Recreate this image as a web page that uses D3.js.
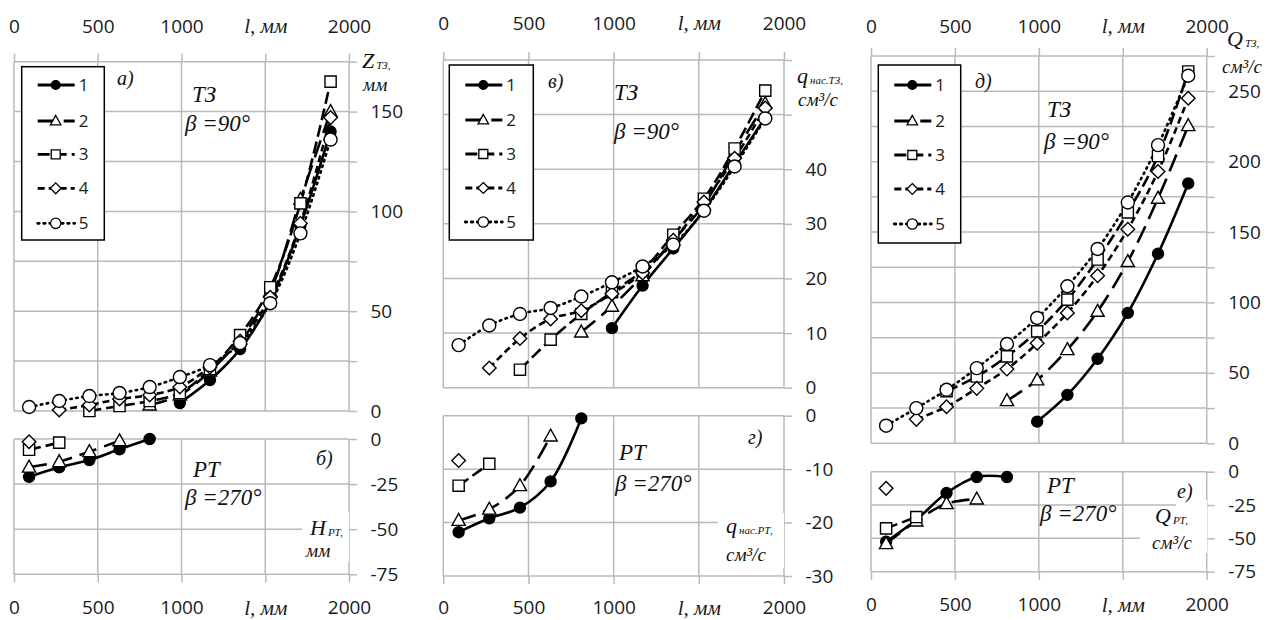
<!DOCTYPE html>
<html><head><meta charset="utf-8">
<script src="https://cdn.jsdelivr.net/npm/d3@7/dist/d3.min.js"></script>
<style>body{margin:0;background:#fff}svg{display:block}</style>
</head><body>
<svg id="c" width="1278" height="620"></svg>
<script>
// ---------- DATA ----------
const L = [90,270,450,630,810,990,1170,1350,1530,1710,1890];   // l, мм
const xTicks = [0,500,1000,1500,2000];
const seriesNames = ["1","2","3","4","5"];

// а) Z_ТЗ, мм (β=90°)
const zTZ1 = [null,null,null,null,null,4,15.5,31,55,93,140];
const zTZ2 = [null,null,null,null,3,8,20,36,60,106,150];
const zTZ3 = [null,null,0,2.5,5,9,21,38,62,104,165];
const zTZ4 = [null,0.5,3,6,8,12,22,35,57,94,147];
const zTZ5 = [2,5,7.5,9,12,17,23,34,54,89,136];
// б) H_РТ, мм (β=270°)
const hRT1 = [-21,-15.7,-11.7,-5.7,0];
const hRT2 = [-15.6,-12.6,-7,-1];
const hRT3 = [-6,-2];
const hRT4 = [-1.5];
// в) q_нас.ТЗ, см³/с
const qTZ1 = [null,null,null,null,null,10.9,18.7,25.5,32.5,41,49.5];
const qTZ2 = [null,null,null,null,10.2,14.9,20.5,27,33.5,43,52];
const qTZ3 = [null,null,3.3,8.8,13.5,17.5,21.5,28,34.6,43.8,54.4];
const qTZ4 = [null,3.6,9,12.6,14.1,17.2,21,27,34,42,51.2];
const qTZ5 = [7.8,11.4,13.5,14.6,16.7,19.3,22.2,26.2,32.4,40.5,49.3];
// г) q_нас.РТ, см³/с
const qRT1 = [-21.8,-19.2,-17.2,-12.3,-0.5];
const qRT2 = [-19.6,-17.5,-13.1,-3.8];
const qRT3 = [-13.1,-9];
const qRT4 = [-8.4];
// д) Q_ТЗ, см³/с
const QTZ1 = [null,null,null,null,null,15.4,34.4,60,92.6,134.6,184.5];
const QTZ2 = [null,null,null,null,30.3,45,66.5,93.7,129,174,225.5];
const QTZ3 = [null,null,37,47.4,61.7,79.5,102,130.5,164,204,264];
const QTZ4 = [null,17,26,39,52.7,71,92.6,119,152,193,245];
const QTZ5 = [12.5,25,38,53.4,70.5,89,111.5,138,171,211.7,261];
// е) Q_РТ, см³/с
const QRT1 = [-52.5,-36,-16,-4,-4];
const QRT2 = [-54,-37,-24,-20.5];
const QRT3 = [-42.5,-34];
const QRT4 = [-12.5];

// y-axis tick values / labels
const tickA = [0,25,50,75,100,125,150,175], labA = [0,50,100,150];
const tickB = [0,-25,-50,-75];
const tickV = [0,10,20,30,40,50,60], labV = [0,10,20,30,40];
const tickG = [0,-10,-20,-30];
const tickD = [0,25,50,75,100,125,150,175,200,225,250,275], labD = [0,50,100,150,200,250];
const tickE = [0,-25,-50,-75];

// ---------- STYLE ----------
const GRID = "#b9b9b9";
const SANS = "'Open Sans', 'Noto Sans', sans-serif";
const SERIF = "'Liberation Serif', 'DejaVu Serif', serif";
const styles = [
  {dash:null, marker:"fcircle"},
  {dash:"18,8", marker:"triangle"},
  {dash:"12,5", marker:"square"},
  {dash:"7,4", marker:"diamond"},
  {dash:"1.5,4.5", marker:"circle"}
];

const svg = d3.select("#c");

function markerPath(type, s){
  s = s||1;
  if(type==="fcircle"||type==="circle"){ const r=(type==="fcircle"?5.5:6.5)*s; return `M${-r},0A${r},${r} 0 1,0 ${r},0A${r},${r} 0 1,0 ${-r},0Z`; }
  if(type==="square"){ const h=5.6*s; return `M${-h},${-h}H${h}V${h}H${-h}Z`; }
  if(type==="triangle"){ const a=6.6*s; return `M0,${-a*1.05}L${a},${a*0.75}L${-a},${a*0.75}Z`; }
  if(type==="diamond"){ const a=6.8*s; return `M0,${-a}L${a},0L0,${a}L${-a},0Z`; }
}

function drawMarkers(g, pts, st, x, y){
  g.selectAll(null).data(pts).enter().append("path")
    .attr("d", markerPath(st.marker))
    .attr("transform", d=>`translate(${x(d.l)},${y(d.v)})`)
    .attr("fill", st.marker==="fcircle"?"#000":"#fff")
    .attr("stroke","#000").attr("stroke-width",1.4);
}

function drawChart(g, x, cfg, axisPos){
  const y = d3.scaleLinear().domain(cfg.dom).range([cfg.y0, cfg.y1]);
  const yTop = Math.min(cfg.y0,cfg.y1), yBot = Math.max(cfg.y0,cfg.y1);
  const [xa,xb] = x.range();
  g.selectAll(null).data(xTicks).enter().append("line")
    .attr("x1",d=>x(d)).attr("x2",d=>x(d)).attr("y1",yTop).attr("y2",yBot)
    .attr("stroke",GRID).attr("stroke-width",1.5);
  g.selectAll(null).data(cfg.ticks).enter().append("line")
    .attr("x1",xa).attr("x2",xb).attr("y1",d=>y(d)).attr("y2",d=>y(d))
    .attr("stroke",GRID).attr("stroke-width",1.5);
  const xAx = (axisPos==="top"?d3.axisTop(x):d3.axisBottom(x))
    .tickValues(xTicks).tickSize(8).tickPadding(cfg.xPad)
    .tickFormat(d=> d===1500 ? "l, мм" : d);
  const gx = g.append("g").attr("transform",`translate(0,${axisPos==="top"?yTop:yBot})`).call(xAx);
  gx.select(".domain").remove();
  gx.selectAll(".tick line").attr("stroke",GRID).attr("stroke-width",1.5);
  gx.selectAll(".tick text").attr("fill","#1a1a1a").style("font-family",SANS).style("font-size","19px");
  gx.selectAll(".tick text").filter(d=>d===1500).style("font-family",SERIF).style("font-style","italic").style("font-size","21px");
  const yAx = d3.axisRight(y).tickValues(cfg.ticks).tickSize(8).tickPadding(13.5)
    .tickFormat(d=> cfg.labels.includes(d) ? String(d) : "");
  const gy = g.append("g").attr("transform",`translate(${xb},0)`).call(yAx);
  gy.select(".domain").remove();
  gy.selectAll(".tick line").attr("stroke",GRID).attr("stroke-width",1.5);
  gy.selectAll(".tick text").attr("fill","#1a1a1a").style("font-family",SANS).style("font-size","19px");
  return y;
}

function drawSeries(g, x, y, list){
  const line = d3.line().x(d=>x(d.l)).y(d=>y(d.v)).curve(d3.curveCatmullRom.alpha(0.5));
  list.forEach((arr,i)=>{
    const pts = arr.map((v,j)=>({l:L[j], v})).filter(d=>d.v!=null);
    const st = styles[i];
    if(pts.length>1){
      g.append("path").attr("d",line(pts)).attr("fill","none").attr("stroke","#000")
        .attr("stroke-width",2.6).attr("stroke-dasharray",st.dash)
        .attr("stroke-linecap", i===4?"round":"butt");
    }
  });
  list.forEach((arr,i)=>{
    const pts = arr.map((v,j)=>({l:L[j], v})).filter(d=>d.v!=null);
    drawMarkers(g, pts, styles[i], x, y);
  });
}

function drawLegend(g, lx, ly, w, h, rowY){
  g.append("rect").attr("x",lx).attr("y",ly).attr("width",w).attr("height",h)
    .attr("fill","#fff").attr("stroke","#000").attr("stroke-width",1.5);
  seriesNames.forEach((n,i)=>{
    const yy = rowY[i], st = styles[i];
    g.append("line").attr("x1",lx+16).attr("x2",lx+53).attr("y1",yy).attr("y2",yy)
      .attr("stroke","#000").attr("stroke-width",2.8).attr("stroke-dasharray",st.dash)
      .attr("stroke-linecap", i===4?"round":"butt");
    g.append("path").attr("d",markerPath(st.marker,0.8)).attr("transform",`translate(${lx+34},${yy})`)
      .attr("fill",st.marker==="fcircle"?"#000":"#fff").attr("stroke","#000").attr("stroke-width",1.3);
    g.append("text").attr("x",lx+57).attr("y",yy+6).text(n)
      .style("font-family",SANS).style("font-size","17px").attr("fill","#1a1a1a");
  });
}

function serifText(g, x, y, s, size){
  return g.append("text").attr("x",x).attr("y",y).text(s)
    .style("font-family",SERIF).style("font-style","italic").style("font-size",(size||22)+"px").attr("fill","#111");
}
function unitLabel(g, x, y, main, sub, x2, y2, second, bg){
  if(bg) bg.forEach(r=>g.append("rect").attr("x",r[0]).attr("y",r[1]).attr("width",r[2]).attr("height",r[3]).attr("fill","#fff"));
  const t = g.append("text").attr("x",x).attr("y",y)
    .style("font-family",SERIF).style("font-style","italic").attr("fill","#111");
  t.append("tspan").text(main).style("font-size","22px");
  t.append("tspan").text(sub).style("font-size","11px").attr("dx",2).attr("dy",1);
  serifText(g, x2, y2, second, 19);
}

// ---------- PANELS ----------
const panels = [
  { x0:14, x1:349,
    top:{dom:[0,175], y0:411, y1:61.7, ticks:tickA, labels:labA, xPad:20.7, data:[zTZ1,zTZ2,zTZ3,zTZ4,zTZ5]},
    bot:{dom:[0,-75], y0:439, y1:574.3, ticks:tickB, labels:tickB, xPad:18.2, data:[hRT1,hRT2,hRT3,hRT4]},
    legend:[21.7,66.7,82.6,173.3,[85,121,154.3,188.3,223.3]],
    texts:[["а)",117,85,20],["ТЗ",192,102,23],["β =90°",185,131,23],["б)",316,465,20],["РТ",193,477,23],["β =270°",185,505,23]],
    units:[[362,68,"Z","ТЗ,",363,91,"мм",null],[310,535,"H","РТ,",306,557,"мм",[[302,512,47,50]]]]
  },
  { x0:443.3, x1:784,
    top:{dom:[0,60], y0:387.7, y1:60, ticks:tickV, labels:labV, xPad:22, data:[qTZ1,qTZ2,qTZ3,qTZ4,qTZ5]},
    bot:{dom:[0,-30], y0:415.7, y1:576, ticks:tickG, labels:tickG, xPad:16.5, data:[qRT1,qRT2,qRT3,qRT4]},
    legend:[449.3,65,84,175,[85,120,154,188,222]],
    texts:[["в)",548,88,20],["ТЗ",614,100,23],["β =90°",614,139,23],["г)",748,444,20],["РТ",619,460,23],["β =270°",615,491,23]],
    units:[[797,83,"q","нас.ТЗ,",798,106,"см³/с",null],[726,533,"q","нас.РТ,",726,561,"см³/с",[[718,513,66,55]]]]
  },
  { x0:871, x1:1206.7,
    top:{dom:[0,275], y0:443.3, y1:56, ticks:tickD, labels:labD, xPad:15, data:[QTZ1,QTZ2,QTZ3,QTZ4,QTZ5]},
    bot:{dom:[0,-75], y0:471.7, y1:571.7, ticks:tickE, labels:tickE, xPad:17.8, data:[QRT1,QRT2,QRT3,QRT4]},
    legend:[878.3,65,82.4,178,[85,121,155,189,224]],
    texts:[["д)",975,88,20],["ТЗ",1047,117,23],["β =90°",1044,149,23],["е)",1177,498,20],["РТ",1047,493,23],["β =270°",1040,521,23]],
    units:[[1227,46,"Q","ТЗ,",1222,73,"см³/с",null],[1155,523,"Q","РТ,",1152,549,"см³/с",[[1176,500,31,10],[1140,509,67,44]]]]
  }
];

panels.forEach(p=>{
  const g = svg.append("g");
  const x = d3.scaleLinear().domain([0,2000]).range([p.x0,p.x1]);
  const yT = drawChart(g, x, p.top, "top");
  const yB = drawChart(g, x, p.bot, "bottom");
  p.units.forEach(u=>unitLabel(g, u[0],u[1],u[2],u[3],u[4],u[5],u[6],u[7]));
  p.texts.forEach(t=>serifText(g,t[1],t[2],t[0],t[3]));
  drawSeries(g, x, yT, p.top.data);
  drawSeries(g, x, yB, p.bot.data);
  const lg = p.legend;
  drawLegend(g, lg[0], lg[1], lg[2], lg[3], lg[4]);
});
</script>
</body></html>
